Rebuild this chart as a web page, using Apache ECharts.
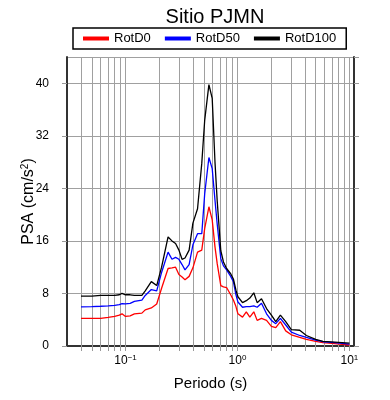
<!DOCTYPE html>
<html><head><meta charset="utf-8">
<script src="https://cdn.jsdelivr.net/npm/echarts@6/dist/echarts.min.js"></script>
<style>html,body{margin:0;padding:0;background:#fff}#c{width:390px;height:400px}</style>
</head><body><div id="c"></div>
<script>
const periods = [0.04,0.05,0.06,0.07,0.08,0.088,0.093,0.1,0.11,0.12,0.14,0.15,0.17,0.19,0.21,0.24,0.26,0.28,0.30,0.32,0.34,0.37,0.40,0.44,0.48,0.51,0.556,0.595,0.63,0.66,0.71,0.75,0.80,0.87,0.92,0.97,1.01,1.11,1.2,1.29,1.40,1.50,1.64,1.82,2.01,2.2,2.42,2.7,3.03,3.6,4.13,5.0,5.8,7.4,10];
const rotD100 = [7.6,7.6,7.7,7.7,7.7,7.8,8.0,7.8,7.8,7.7,
7.7,8.4,9.8,9.2,12.0,16.6,16.0,15.6,14.6,13.2,
13.4,14.6,18.7,20.9,27.8,34.4,39.8,37.7,28,22,
14.5,12.8,11.8,11.0,10.2,8.5,7.5,6.6,6.9,7.3,
8.1,6.6,7.2,5.7,4.7,3.7,4.7,3.7,2.5,2.4,
1.6,1.0,0.7,0.6,0.45];
const rotD50 = [5.95,6.0,6.05,6.1,6.2,6.3,6.45,6.4,6.5,6.8,
7.0,7.7,8.6,8.4,11.2,14.3,13.2,13.5,13.2,12.4,
11.6,12.4,15.4,17.1,17.1,23.2,28.7,27.0,22.2,18.5,
13.3,12.2,11.6,10.6,9.8,7.8,6.7,5.9,6.0,6.0,
6.1,5.9,6.5,4.9,3.9,3.4,4.2,3.2,2.1,1.6,
1.3,0.9,0.65,0.5,0.3];
const rotD0 = [4.2,4.2,4.2,4.35,4.5,4.7,4.9,4.5,4.6,4.9,
5.0,5.5,5.8,6.4,8.8,11.8,11.9,12.0,10.9,10.5,
10.1,10.6,11.9,14.3,14.6,17.9,21.2,19.2,15.1,12.5,
9.2,9.0,8.9,7.8,7.0,6.0,4.9,4.4,5.2,4.4,
5.2,3.9,4.2,3.9,3.0,2.8,3.7,2.3,1.7,1.3,
1.0,0.7,0.5,0.35,0.15];
const xTickValues = [0.04,0.05,0.06,0.07,0.08,0.09,0.1,0.2,0.3,0.4,0.5,0.6,0.7,0.8,0.9,1,2,3,4,5,6,7,8,9,10];
const xLabelValues = [0.1,1,10];
const xLabelExp = {'0.1':'−1','1':'0','10':'1'};

const FONT = 'Liberation Sans';
const chart = echarts.init(document.getElementById('c'), null, {renderer:'canvas'});
const pairs = arr => periods.map((p,i)=>[p,arr[i]]);
const axisLine = {show:true, lineStyle:{color:'#333', width:2}};
const tickStyle = {color:'#999', width:1};
const xBase = {type:'log', logBase:10, min:0.03, max:11, gridIndex:0};
chart.setOption({
  animation:false,
  textStyle:{fontFamily:FONT},
  title:{text:'Sitio PJMN', left:210, textAlign:'center', top:2,
    textStyle:{fontFamily:FONT, fontSize:20, fontWeight:'normal', color:'#000'}},
  legend:{left:73, top:28, padding:[4,10], itemGap:14, itemWidth:26, itemHeight:4,
    borderColor:'#000', borderWidth:1.5, icon:'rect',
    textStyle:{fontFamily:FONT, fontSize:13, color:'#000'},
    data:['RotD0','RotD50','RotD100']},
  grid:{left:67, right:36, top:57, bottom:54, containLabel:false},
  xAxis:[
    Object.assign({}, xBase, {position:'bottom', name:'Periodo (s)', nameLocation:'middle', nameGap:30,
      nameMoveOverlap:false,
      nameTextStyle:{fontFamily:FONT, fontSize:15, color:'#000'},
      axisLine:axisLine,
      axisTick:{show:true, inside:false, length:5, lineStyle:tickStyle, customValues:xTickValues},
      splitLine:{show:true, lineStyle:{color:'#a0a0a0', width:1}},
      axisLabel:{customValues:xLabelValues, margin:8, color:'#000',
        formatter:v=>'{b|10}{s|'+xLabelExp[String(v)]+'}',
        rich:{b:{fontFamily:FONT, fontSize:12, color:'#000', lineHeight:14},
              s:{fontFamily:FONT, fontSize:8, color:'#000', verticalAlign:'top', lineHeight:8}}}
    }),
    Object.assign({}, xBase, {position:'top',
      axisLine:axisLine,
      axisTick:{show:true, inside:false, length:4, lineStyle:tickStyle, customValues:xTickValues},
      splitLine:{show:false}, axisLabel:{show:false}})
  ],
  yAxis:[
    {type:'value', min:0, max:44, interval:8, position:'left',
      name:'{a|PSA (cm/s}{s|2}{a|)}', nameLocation:'middle', nameGap:29, nameRotate:90,
      nameMoveOverlap:false,
      nameTextStyle:{fontFamily:FONT, fontSize:16, color:'#000',
        rich:{a:{fontFamily:FONT, fontSize:16, color:'#000', lineHeight:18},
              s:{fontFamily:FONT, fontSize:10, color:'#000', verticalAlign:'top', lineHeight:10}}},
      axisLine:axisLine,
      axisTick:{show:true, inside:false, length:5, lineStyle:tickStyle},
      splitLine:{show:true, lineStyle:{color:'#a0a0a0', width:1}},
      axisLabel:{margin:18, fontFamily:FONT, fontSize:12, color:'#000', showMaxLabel:false}},
    {type:'value', min:0, max:44, interval:8, position:'right',
      axisLine:axisLine,
      axisTick:{show:true, inside:false, length:5, lineStyle:tickStyle},
      splitLine:{show:false}, axisLabel:{show:false}}
  ],
  series:[
    {name:'RotD0', type:'line', data:pairs(rotD0), showSymbol:false, symbol:'none', color:'#ff0000', lineStyle:{width:1.3, color:'#ff0000'}, xAxisIndex:0, yAxisIndex:0},
    {name:'RotD50', type:'line', data:pairs(rotD50), showSymbol:false, symbol:'none', color:'#0000ff', lineStyle:{width:1.3, color:'#0000ff'}, xAxisIndex:0, yAxisIndex:0},
    {name:'RotD100', type:'line', data:pairs(rotD100), showSymbol:false, symbol:'none', color:'#000000', lineStyle:{width:1.3, color:'#000000'}, xAxisIndex:0, yAxisIndex:0}
  ]
});
</script></body></html>
